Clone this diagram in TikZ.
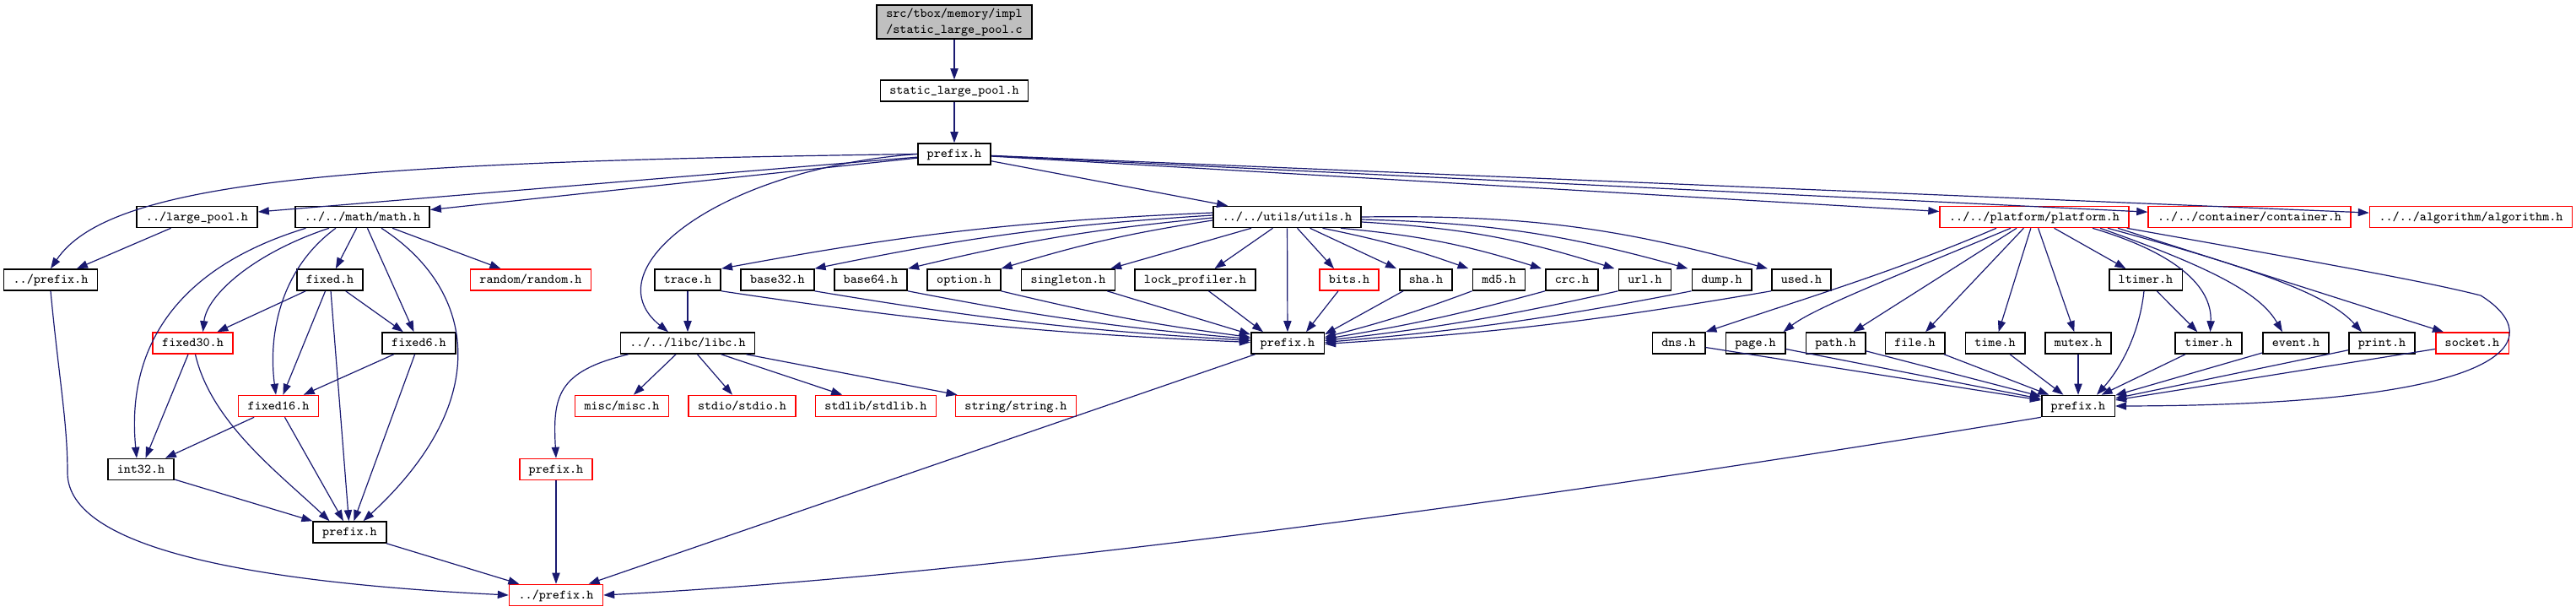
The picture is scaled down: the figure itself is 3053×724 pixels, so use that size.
\documentclass[tikz,border=0pt]{standalone}
\usepackage{fontspec}
\usetikzlibrary{arrows.meta,calc}
\definecolor{edgecol}{HTML}{191970}
\definecolor{rootfill}{HTML}{BFBFBF}
\newcommand{\nfont}{\fontsize{7.6pt}{9.5pt}\selectfont\ttfamily}
\begin{document}
\begin{tikzpicture}[x=0.5pt,y=-0.5pt,
  nbase/.style={draw=black,fill=white,line width=0.8pt,font=\nfont,inner xsep=5.5pt,inner ysep=0pt},
  hdr/.style={nbase,minimum height=12.5pt,text height=5.6pt,text depth=1.6pt},
  rhdr/.style={hdr,draw=red},
  dep/.style={draw=edgecol,line width=0.6pt,-{Triangle[length=6.5pt,width=4.6pt]}}]
\useasboundingbox (0,0) rectangle (3053,724);

% rank 0-2
\node[nbase,fill=rootfill,align=center,minimum height=20pt] (root) at (1131,26) {src/tbox/memory/impl\\/static\_large\_pool.c};
\node[hdr] (slp) at (1131,107.5) {static\_large\_pool.h};
\node[hdr] (pT) at (1131,182.5) {prefix.h};
% rank 3
\node[hdr] (lpool) at (233.5,257) {../large\_pool.h};
\node[hdr] (math) at (429.5,257) {../../math/math.h};
\node[hdr] (utils) at (1525.5,257) {../../utils/utils.h};
\node[rhdr] (plat) at (2411,257) {../../platform/platform.h};
\node[rhdr] (cont) at (2666,257) {../../container/container.h};
\node[rhdr] (algo) at (2928.5,257) {../../algorithm/algorithm.h};
% rank 4
\node[hdr] (pL) at (60,331.5) {../prefix.h};
\node[hdr] (fixed) at (391,331.5) {fixed.h};
\node[rhdr] (random) at (629,331.5) {random/random.h};
\node[hdr] (trace) at (815,331.5) {trace.h};
\node[hdr] (base32) at (921.5,331.5) {base32.h};
\node[hdr] (base64) at (1032,331.5) {base64.h};
\node[hdr] (option) at (1142.5,331.5) {option.h};
\node[hdr] (singleton) at (1266,331.5) {singleton.h};
\node[hdr] (lockp) at (1416.5,331.5) {lock\_profiler.h};
\node[rhdr] (bits) at (1599,331.5) {bits.h};
\node[hdr] (sha) at (1690,331.5) {sha.h};
\node[hdr] (md5) at (1776.5,331.5) {md5.h};
\node[hdr] (crc) at (1863,331.5) {crc.h};
\node[hdr] (url) at (1949.5,331.5) {url.h};
\node[hdr] (dump) at (2040.5,331.5) {dump.h};
\node[hdr] (used) at (2135,331.5) {used.h};
\node[hdr] (ltimer) at (2543,331.5) {ltimer.h};
% rank 5
\node[rhdr] (fixed30) at (228.5,406.5) {fixed30.h};
\node[hdr] (fixed6) at (496.5,406.5) {fixed6.h};
\node[hdr] (libc) at (815,406.5) {../../libc/libc.h};
\node[hdr] (pU) at (1526,406.5) {prefix.h};
\node[hdr] (dns) at (1989.5,406.5) {dns.h};
\node[hdr] (page) at (2080.5,406.5) {page.h};
\node[hdr] (path) at (2175.5,406.5) {path.h};
\node[hdr] (file) at (2269.5,406.5) {file.h};
\node[hdr] (time) at (2364.5,406.5) {time.h};
\node[hdr] (mutex) at (2463,406.5) {mutex.h};
\node[hdr] (timer) at (2617.5,406.5) {timer.h};
\node[hdr] (event) at (2721,406.5) {event.h};
\node[hdr] (print) at (2823,406.5) {print.h};
\node[rhdr] (socket) at (2930,406.5) {socket.h};
% rank 6
\node[rhdr] (fixed16) at (330,481) {fixed16.h};
\node[rhdr] (misc) at (737,481) {misc/misc.h};
\node[rhdr] (stdio) at (879.5,481) {stdio/stdio.h};
\node[rhdr] (stdlib) at (1038,481) {stdlib/stdlib.h};
\node[rhdr] (string) at (1204,481) {string/string.h};
\node[hdr] (pP) at (2463,481) {prefix.h};
% rank 7-9
\node[hdr] (int32) at (167,556) {int32.h};
\node[rhdr] (pR) at (659,556) {prefix.h};
\node[hdr] (pM) at (414.5,630.5) {prefix.h};
\node[rhdr] (pB) at (659,705) {../prefix.h};

% top chain
\draw[dep] (root) -- (slp);
\draw[dep] (slp) -- (pT);
% from prefix.h (top)
\draw[dep] (pT.west) .. controls (400,192) and (130,215) .. (pL.north);
\draw[dep] (pT) -- (lpool);
\draw[dep] (pT) -- (math);
\draw[dep] (pT.west) .. controls (850,200) and (700,320) .. ($(libc.north)+(-23,0)$);
\draw[dep] (pT) -- (utils);
\draw[dep] (pT) -- (plat);
\draw[dep] (pT) -- (cont);
\draw[dep] (pT) -- (algo);
\draw[dep] (lpool) -- (pL);
% math.h
\draw[dep] ($(math.south)+(-67,0)$) .. controls (200,320) and (150,420) .. ($(int32.north)+(-5,0)$);
\draw[dep] ($(math.south)+(-39.5,0)$) .. controls (300,300) and (245,350) .. ($(fixed30.north)+(12,0)$);
\draw[dep] ($(math.south)+(-31.5,0)$) .. controls (330,320) and (318,400) .. ($(fixed16.north)+(-3,0)$);
\draw[dep] (math) -- (fixed);
\draw[dep] (math) -- (fixed6);
\draw[dep] ($(math.south)+(22.5,0)$) .. controls (560,340) and (590,470) .. ($(pM.north)+(16,0)$);
\draw[dep] (math) -- (random);
% fixed.h
\draw[dep] (fixed) -- (fixed30);
\draw[dep] (fixed) -- (fixed16);
\draw[dep] (fixed) -- (pM);
\draw[dep] (fixed) -- (fixed6);
% fixed30 / fixed6 / fixed16 / int32
\draw[dep] (fixed30) -- (int32);
\draw[dep] ($(fixed30.south)+(3,0)$) .. controls (250,500) and (330,560) .. ($(pM.north)+(-24,0)$);
\draw[dep] (fixed6) -- (fixed16);
\draw[dep] (fixed6) -- (pM);
\draw[dep] (fixed16) -- (int32);
\draw[dep] (fixed16) -- (pM);
\draw[dep] (int32) -- (pM);
\draw[dep] (pM) -- (pB);
\draw[dep] (pL.south) .. controls (70,450) and (80,500) .. (80,560) .. controls (80,650) and (300,690) .. (pB.west);
% libc
\draw[dep] ($(libc.south west)+(10,0)$) .. controls (660,440) and (655,470) .. (pR.north);
\draw[dep] (libc) -- (misc);
\draw[dep] (libc) -- (stdio);
\draw[dep] (libc) -- (stdlib);
\draw[dep] (libc) -- (string);
\draw[dep] (pR) -- (pB);
% utils -> children
\draw[dep] ($(utils.west)+(0,-5)$) to[bend right=4] (trace.north east);
\draw[dep] ($(utils.west)+(0,-2)$) to[bend right=4] (base32.north east);
\draw[dep] ($(utils.west)+(0,1)$) to[bend right=4] (base64.north east);
\draw[dep] ($(utils.west)+(0,4)$) to[bend right=4] (option.north east);
\draw[dep] ($(utils.south west)+(46,0)$) -- ($(singleton.north east)+(-6,0)$);
\draw[dep] ($(utils.south)+(-17,0)$) -- ($(lockp.north)+(23,0)$);
\draw[dep] (utils) -- (pU);
\draw[dep] ($(utils.south)+(12,0)$) -- ($(bits.north)+(-18,0)$);
\draw[dep] ($(utils.south)+(27,0)$) -- ($(sha.north west)+(-3,0)$);
\draw[dep] ($(utils.south)+(42,0)$) to[bend left=4] ($(md5.north west)+(-4,0)$);
\draw[dep] ($(utils.south east)+(-25,0)$) to[bend left=6] ($(crc.north west)+(-4,0)$);
\draw[dep] ($(utils.east)+(0,6)$) to[bend left=7] ($(url.north west)+(-4,0)$);
\draw[dep] ($(utils.east)+(0,3)$) to[bend left=7] ($(dump.north west)+(-4,0)$);
\draw[dep] ($(utils.east)+(0,0)$) to[bend left=8] ($(used.north west)+(-4,0)$);
% children -> prefix.h (utils)
\draw[dep] (trace.south east) to[bend right=3] ($(pU.west)+(0,-1)$);
\draw[dep] (base32.south east) to[bend right=3] ($(pU.west)+(0,-3)$);
\draw[dep] (base64.south east) to[bend right=3] ($(pU.west)+(0,-5)$);
\draw[dep] (option.south east) to[bend right=3] ($(pU.west)+(0,-7)$);
\draw[dep] ($(singleton.south east)+(-10,0)$) -- ($(pU.north west)+(0,3)$);
\draw[dep] ($(lockp.south)+(16,0)$) -- ($(pU.north)+(-29,0)$);
\draw[dep] ($(bits.south)+(-13,0)$) -- ($(pU.north)+(22,0)$);
\draw[dep] ($(sha.south west)+(5,0)$) -- ($(pU.north east)+(0,3)$);
\draw[dep] (md5.south west) to[bend left=3] ($(pU.east)+(0,-7)$);
\draw[dep] (crc.south west) to[bend left=3] ($(pU.east)+(0,-5)$);
\draw[dep] (url.south west) to[bend left=3] ($(pU.east)+(0,-3)$);
\draw[dep] (dump.south west) to[bend left=3] ($(pU.east)+(0,-1)$);
\draw[dep] (used.south west) to[bend left=3] ($(pU.east)+(0,1)$);
\draw[dep] (trace) -- (libc);
\draw[dep] (pU) -- (pB);
% platform
\draw[dep] ($(plat.south)+(-45,0)$) .. controls (2250,320) and (2150,350) .. (dns.north east);
\draw[dep] ($(plat.south)+(-28,0)$) .. controls (2240,330) and (2150,365) .. ($(page.north east)+(-3,0)$);
\draw[dep] (plat) -- (path);
\draw[dep] (plat) -- (file);
\draw[dep] (plat) -- (time);
\draw[dep] (plat) -- (mutex);
\draw[dep] (plat) -- (ltimer);
\draw[dep] ($(plat.south)+(69,0)$) .. controls (2580,300) and (2622,340) .. ($(timer.north)+(2,0)$);
\draw[dep] ($(plat.south)+(78,0)$) .. controls (2630,320) and (2680,350) .. ($(event.north)+(-16,0)$);
\draw[dep] ($(plat.south)+(87,0)$) .. controls (2680,320) and (2760,350) .. ($(print.north)+(-24,0)$);
\draw[dep] ($(plat.south)+(99,0)$) -- ($(socket.north)+(-34,0)$);
\draw[dep] ($(plat.south east)+(-3,0)$) .. controls (2800,320) and (2880,335) .. (2940,350) .. controls (3020,400) and (2990,480) .. (pP.east);
\draw[dep] (ltimer) -- (timer);
\draw[dep] ($(ltimer.south)+(-2,0)$) .. controls (2535,400) and (2510,440) .. ($(pP.north)+(22,0)$);
\foreach \c in {dns,page,path,file,time,mutex,timer,event,print,socket}{
  \draw[dep] (\c) -- (pP);
}
\draw[dep] (pP.south west) .. controls (1900,580) and (1200,680) .. (pB.east);
\end{tikzpicture}
\end{document}
